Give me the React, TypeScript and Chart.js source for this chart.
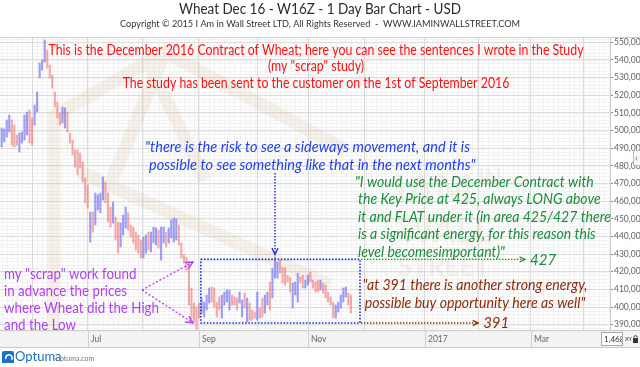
import React, { useEffect, useRef } from 'react';
import { Chart, registerables } from 'chart.js';

Chart.register(...registerables);

// ---- data (Wheat Dec 16, daily bars) ----
const barHighs = [
  501.4, 500.9, 506.0, 508.8, 506.0, 503.1, 497.5, 498.6, 499.2, 508.8, 510.5, 511.6, 507.1, 514.5, 521.8, 538.3, 540.0, 551.3, 545.6, 537.1, 531.5, 521.8, 516.2, 509.9, 513.3, 512.8, 510.5, 498.6, 494.6, 489.0, 489.0, 487.3, 482.2, 473.1, 469.1,
  453.8, 453.8, 464.6, 463.5, 464.6, 473.7, 470.8, 464.6, 456.7, 459.5, 451.0, 448.2, 447.6, 452.1, 456.7, 453.3, 446.5, 445.3, 442.5, 440.8, 438.0, 439.7, 440.8, 442.5, 442.5, 445.3, 444.8, 443.6, 445.3, 445.3, 442.5, 444.8, 449.3, 450.4, 449.9, 446.5, 436.3, 429.5, 428.3, 424.9, 410.8, 402.3, 400.0,
  402.3, 405.1, 402.8, 406.8, 410.8, 411.3, 410.8, 402.8, 405.7, 406.8, 408.5, 409.6, 409.6, 406.8, 405.7, 405.1, 408.5, 404.0, 407.9, 405.1, 402.3, 398.3, 397.2, 408.5, 399.4, 405.1, 406.8, 408.5, 414.2, 422.1, 428.3, 425.5, 426.6, 422.6, 422.1, 418.1, 417.0, 413.6, 414.2, 419.2, 417.0, 418.1, 415.3, 418.1, 419.8, 415.3, 414.2, 415.3, 415.3, 413.6, 412.5, 408.5, 405.7, 402.8, 401.1, 402.8, 406.8, 410.8, 411.3, 407.9, 406.8,
];
const barLows = [
  490.7, 493.5, 496.3, 499.2, 491.8, 490.7, 491.8, 487.8, 492.9, 494.6, 497.5, 492.9, 491.8, 503.1, 510.5, 529.8, 534.3, 538.8, 535.4, 529.8, 524.1, 513.3, 507.1, 503.1, 504.3, 501.4, 499.2, 492.9, 486.1, 479.3, 474.8, 478.8, 470.8, 458.9, 456.1,
  436.8, 442.5, 446.5, 455.0, 453.3, 460.6, 458.9, 448.2, 445.3, 447.6, 438.0, 430.6, 434.0, 440.8, 444.8, 443.6, 439.7, 436.3, 432.3, 430.6, 427.8, 427.8, 430.6, 432.3, 431.2, 436.3, 435.1, 433.4, 426.6, 436.3, 434.0, 436.3, 439.1, 436.8, 438.0, 435.1, 427.8, 424.9, 420.9, 401.1, 393.8, 391.5, 387.5,
  393.8, 396.6, 394.4, 398.3, 402.3, 402.8, 400.0, 394.4, 398.3, 393.8, 401.1, 402.8, 398.3, 401.1, 401.1, 398.3, 402.3, 394.4, 399.4, 391.5, 392.6, 392.6, 393.8, 392.6, 393.8, 394.4, 396.6, 401.1, 398.3, 405.1, 416.4, 416.4, 419.2, 413.6, 412.5, 414.2, 408.5, 399.4, 406.8, 402.8, 413.6, 410.8, 410.8, 412.5, 414.2, 410.8, 408.5, 408.5, 409.6, 407.9, 405.1, 402.8, 401.1, 393.8, 393.8, 397.2, 399.4, 402.8, 405.7, 401.1, 396.6,
];
// 1 = up bar (blue), -1 = down bar (red)
const barDirs = [
  1, 1, 1, 1, -1, -1, -1, 1, 1, 1, 1, -1, -1, 1, 1, 1, 1, 1, -1, -1, -1, -1, -1, -1, 1, 1, -1, -1, -1, -1, -1, -1, -1, -1, -1,
  1, -1, 1, 1, 1, 1, -1, -1, -1, 1, -1, -1, 1, 1, 1, -1, -1, -1, -1, -1, -1, 1, 1, -1, 1, 1, 1, -1, 1, 1, -1, 1, 1, 1, 1, -1, -1, -1, -1, -1, -1, -1, -1,
  -1, 1, 1, 1, 1, -1, -1, -1, -1, 1, 1, 1, 1, -1, -1, -1, 1, 1, -1, 1, -1, -1, -1, 1, -1, -1, 1, 1, -1, 1, 1, 1, -1, -1, -1, -1, -1, 1, 1, 1, -1, -1, 1, 1, -1, -1, -1, -1, 1, -1, -1, -1, -1, -1, 1, 1, 1, 1, 1, -1, -1,
];

const yTickValues = [390, 400, 410, 420, 430, 440, 450, 460, 470, 480, 490, 500, 510, 520, 530, 540, 550];
const monthStartIdx = [12, 34, 55.5, 77.9, 100.9, 121.1, 143.5, 167.1, 188.5, 209.1, 230];
const monthNames = ['Jun', 'Jul', 'Aug', 'Sep', 'Oct', 'Nov', 'Dec', '2017', 'Feb', 'Mar', 'Apr'];
const labeledMonths = ['Jul', 'Sep', 'Nov', '2017', 'Mar'];

const keyPriceHigh = 427;
const keyPriceLow = 391;
const rangeFromIdx = 78.7;
const rangeToIdx = 141.6;
const highArrowToIdx = 206.8;
const lowArrowToIdx = 188.3;
const scrapArrowIdx = 75.6;
const scrapHighTarget = 425.5;

const titleText = 'Wheat Dec 16 - W16Z - 1 Day Bar Chart - USD';
const subtitleText = 'Copyright \u00A9 2015 I Am in Wall Street LTD, All Rights Reserved  -  WWW.IAMINWALLSTREET.COM';
const noteRed = [
  'This is the December 2016 Contract of Wheat; here you can see the sentences I wrote in the Study',
  '(my "scrap" study)',
  'The study has been sent to the customer on the 1st of September 2016',
];
const noteBlue = [
  '"there is the risk to see a sideways movement, and it is',
  'possible to see something like that in the next months"',
];
const noteGreen = [
  '"I would use the December Contract with',
  'the Key Price at 425, always LONG above',
  'it and FLAT under it (in area 425/427 there',
  'is a significant energy, for this reason this',
  'level becomesimportant)"',
];
const noteBrown = [
  '"at 391 there is another strong energy,',
  'possible buy opportunity here as well"',
];
const notePurple = [
  'my "scrap" work found',
  'in advance the prices',
  'where Wheat did the High',
  'and the Low',
];
const watermarkWords = ['IAM', 'IN', 'WALL', 'STREET'];

const FONT = '"Lato", "Open Sans", sans-serif';

function fontStr(size: number, italic: boolean, bold = false) {
  return `${italic ? 'italic ' : ''}${bold ? 'bold ' : ''}${size}px ${FONT}`;
}

function scaleFor(ctx: CanvasRenderingContext2D, text: string, width: number, size: number, italic: boolean) {
  ctx.font = fontStr(size, italic);
  return width / ctx.measureText(text).width;
}

function drawLine(
  ctx: CanvasRenderingContext2D, text: string, x: number, cy: number, sx: number,
  size: number, italic: boolean, color: string, align: 'left' | 'center' = 'left'
) {
  ctx.save();
  ctx.font = fontStr(size, italic);
  const w = ctx.measureText(text).width * sx;
  const left = align === 'center' ? x - w / 2 : x;
  ctx.translate(left, cy);
  ctx.scale(sx, 1);
  ctx.fillStyle = color;
  ctx.textAlign = 'left';
  ctx.textBaseline = 'middle';
  ctx.fillText(text, 0, 0);
  ctx.restore();
}

function dottedPath(ctx: CanvasRenderingContext2D, pts: number[][], color: string, lw = 1.5, dash = [1.5, 1.5]) {
  ctx.save();
  ctx.strokeStyle = color;
  ctx.lineWidth = lw;
  ctx.setLineDash(dash);
  ctx.beginPath();
  pts.forEach((p, i) => (i === 0 ? ctx.moveTo(p[0], p[1]) : ctx.lineTo(p[0], p[1])));
  ctx.stroke();
  ctx.restore();
}

function arrowHead(ctx: CanvasRenderingContext2D, x: number, y: number, angle: number, size: number, color: string, lw = 1.3) {
  ctx.save();
  ctx.strokeStyle = color;
  ctx.lineWidth = lw;
  ctx.setLineDash([]);
  ctx.beginPath();
  ctx.moveTo(x - size * Math.cos(angle - 0.45), y - size * Math.sin(angle - 0.45));
  ctx.lineTo(x, y);
  ctx.lineTo(x - size * Math.cos(angle + 0.45), y - size * Math.sin(angle + 0.45));
  ctx.stroke();
  ctx.restore();
}

const decorPlugin = {
  id: 'decor',
  beforeDraw(chart: any) {
    const { ctx, chartArea: a, scales } = chart;
    const x = scales.x, y = scales.y;
    ctx.save();
    ctx.fillStyle = '#ffffff';
    ctx.fillRect(0, 0, chart.width, chart.height);
    // fine minor grid
    ctx.strokeStyle = '#f2f2f2';
    ctx.lineWidth = 1;
    ctx.beginPath();
    for (let v = 388; v <= 552; v += 2) {
      const py = Math.round(y.getPixelForValue(v)) + 0.5;
      ctx.moveTo(a.left, py); ctx.lineTo(a.right, py);
    }
    for (let i = 0; i <= 240; i += 2) {
      const px = Math.round(x.getPixelForValue(i)) + 0.5;
      ctx.moveTo(px, a.top); ctx.lineTo(px, a.bottom);
    }
    ctx.stroke();
    ctx.restore();
  },
  beforeDatasetsDraw(chart: any) {
    const { ctx, chartArea: a } = chart;
    ctx.save();
    ctx.beginPath();
    ctx.rect(a.left, a.top, a.right - a.left, a.bottom - a.top);
    ctx.clip();
    // faint watermark logo
    ctx.strokeStyle = 'rgba(205,185,140,0.17)';
    ctx.lineWidth = 13;
    ctx.lineJoin = 'miter';
    ctx.beginPath();
    ctx.moveTo(54, 345); ctx.lineTo(54, 116); ctx.lineTo(165, 52); ctx.lineTo(345, 150);
    ctx.moveTo(80, 172); ctx.lineTo(330, 285);
    ctx.moveTo(165, 52); ctx.lineTo(112, 180);
    ctx.moveTo(150, 66); ctx.lineTo(205, 180);
    ctx.stroke();
    ctx.fillStyle = 'rgba(205,185,140,0.16)';
    ctx.font = `bold 40px ${FONT}`;
    ctx.textBaseline = 'middle';
    ctx.textAlign = 'left';
    ctx.fillText(watermarkWords[0], 395, 190);
    ctx.font = `bold 22px ${FONT}`;
    ctx.fillText(watermarkWords[1], 478, 178);
    ctx.font = `bold 34px ${FONT}`;
    ctx.fillText(watermarkWords[2], 398, 232);
    ctx.font = `bold 26px ${FONT}`;
    ctx.fillText(watermarkWords[3], 398, 268);
    ctx.restore();
  },
  afterDraw(chart: any) {
    const { ctx, chartArea: a, scales } = chart;
    const x = scales.x, y = scales.y;
    const W = chart.width;

    // title & subtitle
    let s = scaleFor(ctx, titleText, 282, 14.5, false);
    drawLine(ctx, titleText, 320, 9, s, 14.5, false, '#2b2b2b', 'center');
    s = scaleFor(ctx, subtitleText, 400, 9.5, false);
    drawLine(ctx, subtitleText, 320, 24, s, 9.5, false, '#333333', 'center');

    // top border
    ctx.save();
    ctx.strokeStyle = '#cfcfcf';
    ctx.lineWidth = 1;
    ctx.beginPath();
    ctx.moveTo(0, a.top + 0.5); ctx.lineTo(W, a.top + 0.5);
    ctx.stroke();

    // x-axis band
    const bandTop = a.bottom, bandH = 17;
    ctx.fillStyle = '#f3f3f3';
    ctx.fillRect(0, bandTop, W, bandH);
    ctx.strokeStyle = '#c9c9c9';
    ctx.beginPath();
    ctx.moveTo(0, bandTop + 0.5); ctx.lineTo(W, bandTop + 0.5);
    ctx.moveTo(0, bandTop + bandH + 0.5); ctx.lineTo(W, bandTop + bandH + 0.5);
    ctx.stroke();
    ctx.strokeStyle = '#dddddd';
    ctx.beginPath();
    for (let i = 0; i <= 240; i += 2) {
      const px = Math.round(x.getPixelForValue(i)) + 0.5;
      ctx.moveTo(px, bandTop); ctx.lineTo(px, bandTop + 2);
    }
    ctx.stroke();
    ctx.font = `8.5px ${FONT}`;
    ctx.fillStyle = '#666666';
    ctx.textBaseline = 'middle';
    ctx.textAlign = 'left';
    monthNames.forEach((m, i) => {
      if (!labeledMonths.includes(m)) return;
      const px = Math.round(x.getPixelForValue(monthStartIdx[i])) + 0.5;
      ctx.strokeStyle = '#d0d0d0';
      ctx.beginPath(); ctx.moveTo(px, bandTop); ctx.lineTo(px, bandTop + bandH); ctx.stroke();
      ctx.fillText(m, px + 2.5, bandTop + 9);
    });
    // value box and lock at bottom right
    ctx.fillStyle = '#ffffff';
    ctx.fillRect(601, bandTop + 2, 21, 13);
    ctx.strokeStyle = '#a8a8a8';
    ctx.strokeRect(601.5, bandTop + 2.5, 21, 13);
    ctx.save();
    ctx.beginPath(); ctx.rect(602, bandTop + 3, 20, 12); ctx.clip();
    ctx.fillStyle = '#333';
    ctx.font = `8px ${FONT}`;
    ctx.fillText('1,468', 604, bandTop + 9);
    ctx.restore();
    ctx.fillStyle = '#333';
    ctx.font = `5.5px ${FONT}`;
    ctx.fillText('XY', 625, bandTop + 9);
    ctx.fillRect(633, bandTop + 8, 5, 5);
    ctx.strokeStyle = '#333';
    ctx.lineWidth = 1;
    ctx.beginPath(); ctx.arc(635.5, bandTop + 7.5, 1.8, Math.PI, 0); ctx.stroke();

    // side tab
    ctx.fillStyle = '#f6f6f6';
    ctx.fillRect(633, 150, 7, 16);
    ctx.strokeStyle = '#bdbdbd';
    ctx.strokeRect(633.5, 150.5, 7, 15);
    ctx.fillStyle = '#555';
    ctx.font = `9px ${FONT}`;
    ctx.fillText('\u2039', 635, 158);

    // Optuma logo
    ctx.fillStyle = '#1a73c8';
    ctx.beginPath();
    ctx.moveTo(4, 351); ctx.lineTo(12, 351); ctx.quadraticCurveTo(14, 351, 14, 353);
    ctx.lineTo(14, 363); ctx.lineTo(2, 363); ctx.lineTo(2, 353); ctx.quadraticCurveTo(2, 351, 4, 351);
    ctx.fill();
    ctx.strokeStyle = '#ffffff';
    ctx.lineWidth = 1.6;
    ctx.beginPath(); ctx.arc(9, 358, 3.2, Math.PI * 0.9, Math.PI * 2.2); ctx.stroke();
    ctx.fillStyle = '#1d6fb8';
    ctx.font = `13px ${FONT}`;
    ctx.fillText('Optuma', 15, 357);
    ctx.fillStyle = '#777';
    ctx.font = `7px ${FONT}`;
    ctx.fillText('optuma.com', 56, 359);
    ctx.restore();

    // ---- annotations ----
    const xr0 = x.getPixelForValue(rangeFromIdx);
    const xr1 = x.getPixelForValue(rangeToIdx);
    const yHi = y.getPixelForValue(keyPriceHigh);
    const yLo = y.getPixelForValue(keyPriceLow);

    // range box (blue dotted)
    dottedPath(ctx, [[xr0, yHi], [xr1, yHi], [xr1, yLo], [xr0, yLo], [xr0, yHi]], '#1f2fe6', 1.6, [1.6, 1.6]);

    // green 427 level line
    const xg = x.getPixelForValue(highArrowToIdx);
    dottedPath(ctx, [[xr1 + 1, yHi], [xg, yHi]], '#1a8c3c', 1.4, [1.4, 1.6]);
    arrowHead(ctx, xg, yHi, 0, 6, '#1a8c3c');
    ctx.save();
    ctx.font = fontStr(15, true);
    ctx.fillStyle = '#1a8c3c';
    ctx.textBaseline = 'middle';
    ctx.fillText(String(keyPriceHigh), xg + 5, yHi + 0.5);
    ctx.restore();

    // brown 391 level line
    const xb = x.getPixelForValue(lowArrowToIdx);
    dottedPath(ctx, [[xr1 + 1, yLo], [xb, yLo]], '#8c2a08', 1.4, [1.4, 1.6]);
    arrowHead(ctx, xb, yLo, 0, 6, '#8c2a08');
    ctx.save();
    ctx.font = fontStr(15, true);
    ctx.fillStyle = '#8c2a08';
    ctx.textBaseline = 'middle';
    ctx.fillText(String(keyPriceLow), xb + 5, yLo + 0.5);
    ctx.restore();

    // blue arrow to the high of the range
    let peak = -1;
    barHighs.forEach((h, i) => {
      if (i >= rangeFromIdx && i <= rangeToIdx && (peak < 0 || h > barHighs[peak])) peak = i;
    });
    const xp = x.getPixelForValue(peak);
    const yp = y.getPixelForValue(barHighs[peak] + 1.5);
    dottedPath(ctx, [[xp, 173], [xp, yp]], '#1f2fe6', 1.4, [1.4, 1.6]);
    arrowHead(ctx, xp, yp, Math.PI / 2, 7, '#1f2fe6');

    // purple arrows
    const xs = x.getPixelForValue(scrapArrowIdx);
    const ys1 = y.getPixelForValue(scrapHighTarget);
    const ys2 = y.getPixelForValue(keyPriceLow);
    dottedPath(ctx, [[142, 290], [xs, ys1]], '#b03ff0', 1.3, [2, 2]);
    dottedPath(ctx, [[142, 290], [xs, ys2]], '#b03ff0', 1.3, [2, 2]);
    arrowHead(ctx, xs, ys1, Math.atan2(ys1 - 290, xs - 142), 8, '#b03ff0', 1.4);
    arrowHead(ctx, xs, ys2, Math.atan2(ys2 - 290, xs - 142), 8, '#b03ff0', 1.4);

    // red text block (centered)
    s = scaleFor(ctx, noteRed[0], 535, 14.5, false);
    [50, 66.5, 83].forEach((cy, i) => drawLine(ctx, noteRed[i], 316, cy, s, 14.5, false, '#ff1010', 'center'));

    // blue text block
    s = scaleFor(ctx, noteBlue[0], 325, 14.5, true);
    drawLine(ctx, noteBlue[0], 145, 147, s, 14.5, true, '#2140e6');
    drawLine(ctx, noteBlue[1], 149, 165, s, 14.5, true, '#2140e6');

    // green text block
    s = scaleFor(ctx, noteGreen[2], 253, 14.5, true);
    [182, 199.5, 217, 234.5, 252].forEach((cy, i) =>
      drawLine(ctx, noteGreen[i], i === 0 ? 355 : 358, cy, s, 14.5, true, '#1a8c3c'));

    // brown text block (centered)
    s = scaleFor(ctx, noteBrown[0], 225, 14.5, true);
    [285, 303].forEach((cy, i) => drawLine(ctx, noteBrown[i], 475, cy, s, 14.5, true, '#8c2a08', 'center'));

    // purple text block
    s = scaleFor(ctx, notePurple[2], 155, 15.5, false);
    [274, 290.5, 307.5, 325].forEach((cy, i) => drawLine(ctx, notePurple[i], 4, cy, s, 15.5, false, '#b03ff0'));
  },
};

export default function App() {
  const ref = useRef<HTMLCanvasElement | null>(null);

  useEffect(() => {
    if (!ref.current) return;
    const chart = new Chart(ref.current, {
      type: 'bar',
      data: {
        datasets: [
          {
            type: 'bar',
            data: barHighs.map((h, i) => ({ x: i, y: [barLows[i], h] })) as any,
            backgroundColor: barDirs.map((d) => (d > 0 ? 'rgba(100,100,238,0.62)' : 'rgba(240,110,110,0.58)')),
            borderWidth: 0,
            barThickness: 1.5,
            grouped: false,
          } as any,
        ],
      },
      options: {
        responsive: false,
        animation: false,
        devicePixelRatio: 1,
        layout: { padding: { top: 37, bottom: 37, left: 0, right: 0 } },
        plugins: {
          legend: { display: false },
          tooltip: { enabled: false },
          title: { display: false },
        },
        scales: {
          x: {
            type: 'linear',
            min: -0.67,
            max: 240.4,
            offset: false,
            afterBuildTicks: (sc: any) => {
              sc.ticks = monthStartIdx.map((v) => ({ value: v }));
            },
            ticks: { display: false },
            grid: { color: '#dadada', drawTicks: false, offset: false },
            border: { display: false },
          },
          y: {
            type: 'linear',
            position: 'right',
            min: 387,
            max: 553,
            afterBuildTicks: (sc: any) => {
              sc.ticks = yTickValues.map((v) => ({ value: v }));
            },
            afterFit: (sc: any) => {
              sc.width = 30;
            },
            ticks: {
              callback: (v: any) => `${v},000`,
              font: { size: 8.5, family: FONT },
              color: '#5f6470',
              padding: 1,
            },
            grid: { color: '#dcdcdc', tickLength: 3, tickColor: '#8a8a8a' },
            border: { color: '#cccccc' },
          },
        },
      } as any,
      plugins: [decorPlugin],
    });
    return () => chart.destroy();
  }, []);

  return (
    <div style={{ position: 'absolute', left: 0, top: 0, width: 640, height: 367, background: '#fff' }}>
      <canvas ref={ref} width={640} height={367} style={{ display: 'block', width: 640, height: 367 }} />
    </div>
  );
}
